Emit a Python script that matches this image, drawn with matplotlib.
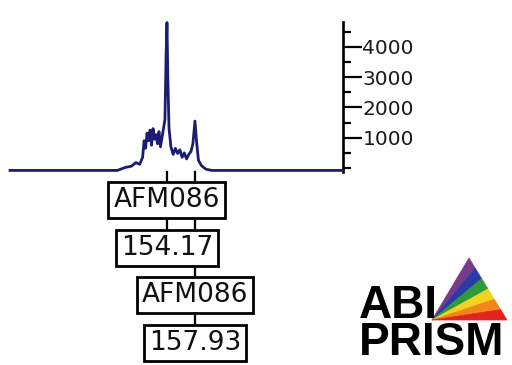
import matplotlib
matplotlib.use('Agg')
import matplotlib.pyplot as plt
from matplotlib.patches import Polygon
from matplotlib.transforms import blended_transform_factory
from matplotlib.ticker import MultipleLocator

# electropherogram trace (size in bp, signal in RFU)
size = [133.1, 147.5, 148.6, 149.4, 150.0, 150.5, 150.9, 151.1, 151.3, 151.5,
        151.7, 151.9, 152.1, 152.3, 152.5, 152.7, 152.9, 153.1, 153.3, 153.6,
        153.9, 154.05, 154.17, 154.3, 154.45, 154.7, 155.0, 155.3, 155.6, 155.9,
        156.2, 156.5, 156.8, 157.1, 157.4, 157.65, 157.93, 158.15, 158.4, 158.8,
        159.4, 160.2, 177.8]
rfu = [-80, -80, 20, 60, 180, 120, 350, 900, 650, 1150,
       900, 1250, 750, 1300, 950, 1100, 800, 1200, 700, 1150,
       1600, 3700, 4800, 2800, 1300, 700, 450, 650, 480, 600,
       350, 500, 300, 450, 550, 800, 1550, 850, 250, 80,
       -40, -80, -80]

# called alleles
allele_size = [154.17, 157.93]
allele_marker = ['AFM086', 'AFM086']
ytick_vals = [1000, 2000, 3000, 4000]

W, H = 512, 365
fig = plt.figure(figsize=(W / 100, H / 100), dpi=100)
fig.patch.set_facecolor('white')

# main trace axes (pixel layout from reference)
ax = fig.add_axes([10 / W, (H - 172) / H, 333 / W, 150 / H])
ax.plot(size, rfu, color='#1c1c72', lw=2.0, clip_on=False, zorder=3)
ax.set_xlim(133.1, 177.8)
ax.set_ylim(-132, 4818)
for s in ['top', 'left', 'bottom']:
    ax.spines[s].set_visible(False)
ax.spines['right'].set_linewidth(1.9)
ax.set_xticks([])
ax.yaxis.tick_right()
ax.set_yticks(ytick_vals)
ax.yaxis.set_minor_locator(MultipleLocator(500))
ax.tick_params(axis='y', which='major', direction='out', length=14, width=1.6,
               pad=0, labelsize=14.5, labelcolor='#1a1a1a')
ax.tick_params(axis='y', which='minor', direction='out', length=6, width=1.6)
ax.patch.set_alpha(0)

# overlay axes in pixel units for labels and logo
ov = fig.add_axes([0, 0, 1, 1])
ov.set_xlim(0, W)
ov.set_ylim(H, 0)
ov.axis('off')

trans = blended_transform_factory(ax.transData, ov.transData)

# connector lines from the peaks down to the label boxes
ov.plot([allele_size[0]] * 2, [172, 232], color='black', lw=1.6,
        transform=trans, zorder=1)
ov.plot([allele_size[1]] * 2, [172, 330], color='black', lw=1.6,
        transform=trans, zorder=1)

box_y = [(200, 248), (295, 343)]
for i, (sz, name) in enumerate(zip(allele_size, allele_marker)):
    kw = dict(transform=trans, ha='center', va='center', color='#111111',
              zorder=5, fontsize=19,
              bbox=dict(boxstyle='square,pad=0.2', fc='white', ec='black',
                        lw=2.0))
    ov.text(sz, box_y[i][0], name, **kw)
    ov.text(sz, box_y[i][1], '%.2f' % sz, **kw)

# ABI PRISM logo
ov.text(359, 355, 'ABI\nPRISM', fontsize=33, fontweight='bold',
        family='Liberation Sans', color='black', va='baseline', ha='left',
        multialignment='left', linespacing=0.8)
prism_colors = ['#7a3a8a', '#2a3aa8', '#2f9a3a', '#f2d21c', '#f2861c', '#e2231f']
ll = (432, 320)
apex = (469, 258)
lr = (507, 320)
n = len(prism_colors)
for i, c in enumerate(prism_colors):
    t0, t1 = i / n, (i + 1) / n
    p0 = (apex[0] + (lr[0] - apex[0]) * t0, apex[1] + (lr[1] - apex[1]) * t0)
    p1 = (apex[0] + (lr[0] - apex[0]) * t1, apex[1] + (lr[1] - apex[1]) * t1)
    ov.add_patch(Polygon([ll, p0, p1], closed=True, fc=c, ec=c, lw=0.5))

fig.savefig('out.png', dpi=100)
